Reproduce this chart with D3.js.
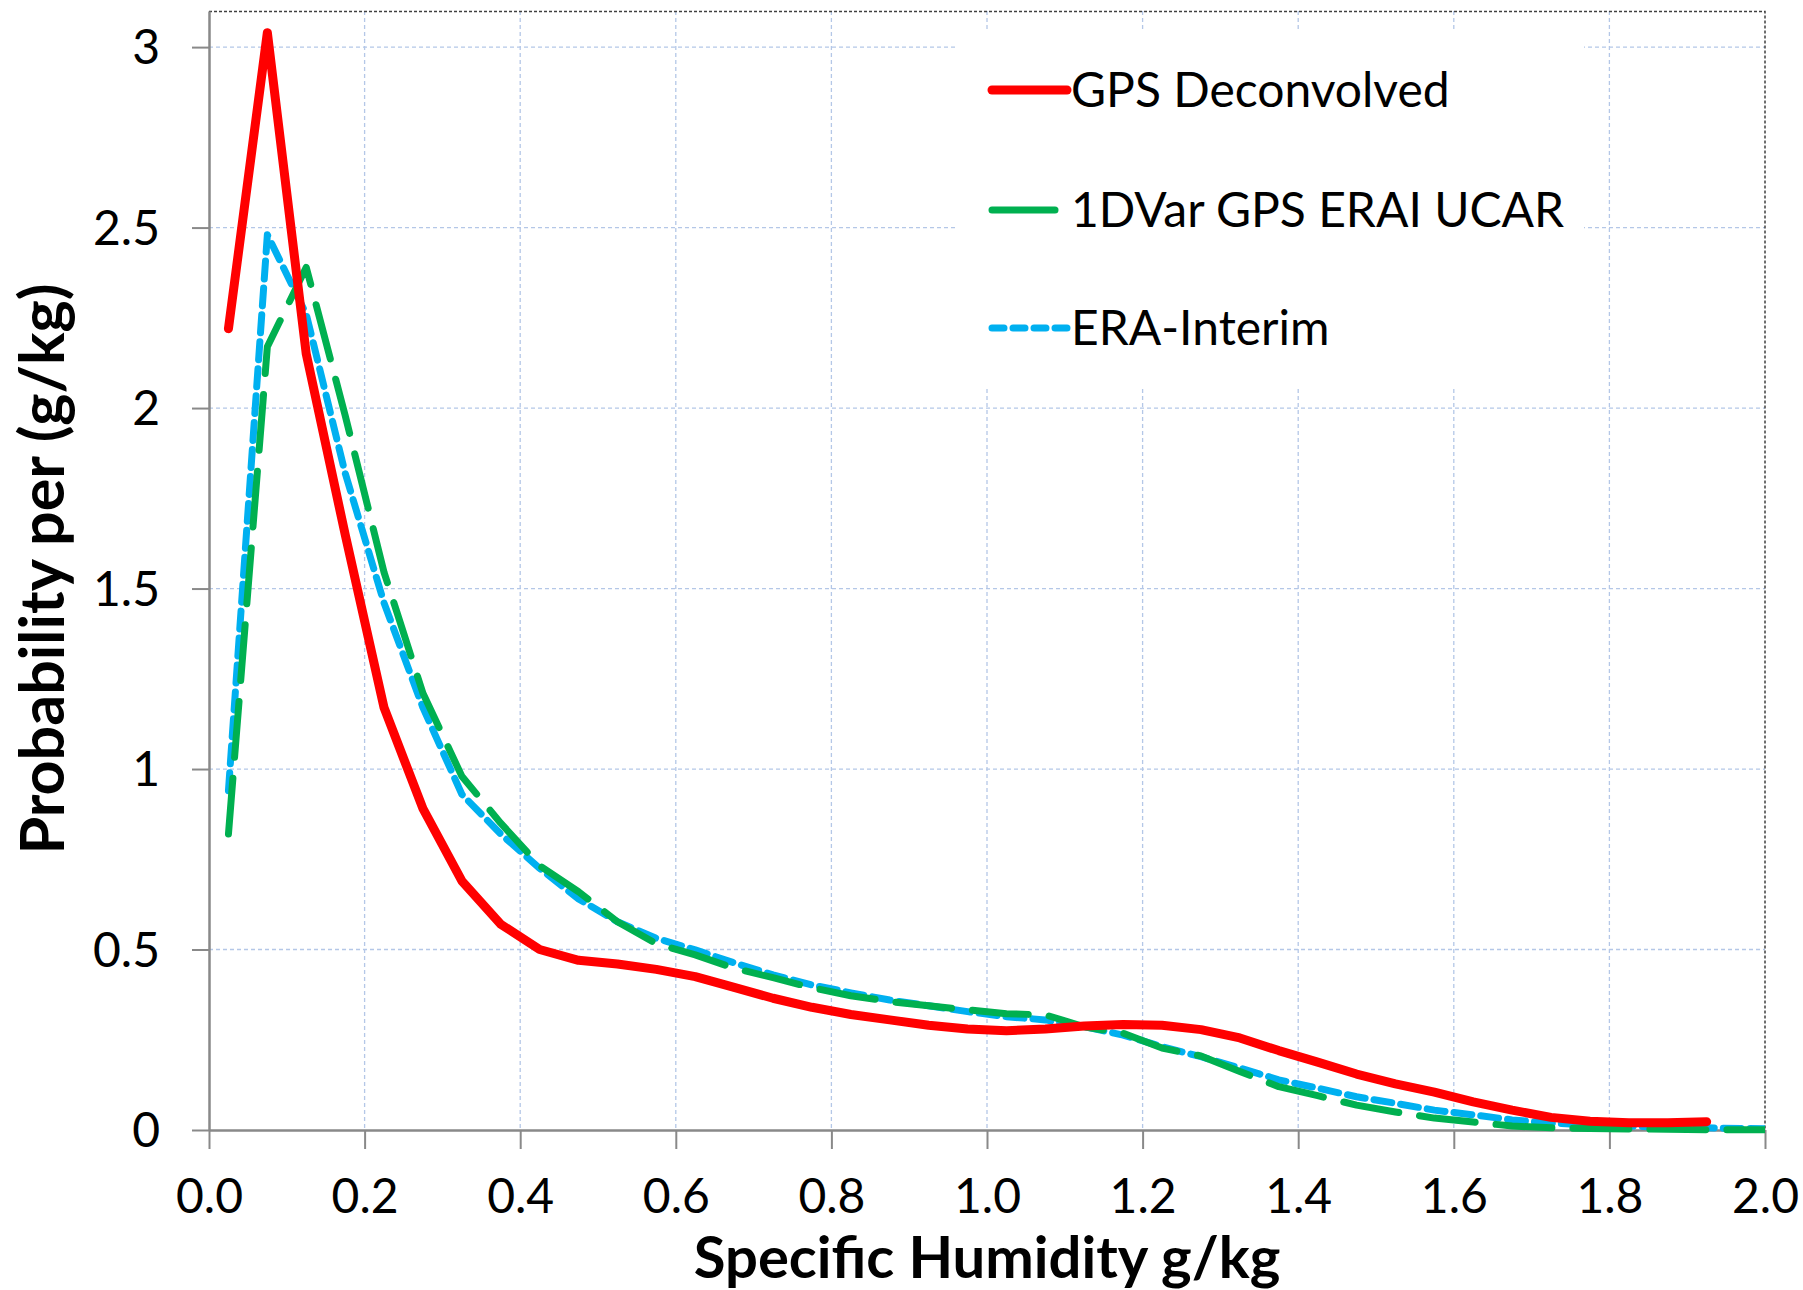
<!DOCTYPE html>
<html>
<head>
<meta charset="utf-8">
<script src="https://cdn.jsdelivr.net/npm/d3@7"></script>
<style>
  body { margin: 0; background: #fff; }
  svg { display: block; }
  .tick-label { font-family: Lato, "Open Sans", sans-serif; font-size: 48px; fill: #000; }
  .axis-title { font-family: Lato, "Open Sans", sans-serif; font-weight: bold; fill: #000; }
  .legend-text { font-family: Lato, "Open Sans", sans-serif; font-size: 48px; fill: #000; }
</style>
</head>
<body>
<div id="wrapper"></div>
<script>
// bin centres (g/kg)
const binCenters = [
  0.025, 0.075, 0.125, 0.175, 0.225, 0.275, 0.325, 0.375, 0.425, 0.475,
  0.525, 0.575, 0.625, 0.675, 0.725, 0.775, 0.825, 0.875, 0.925, 0.975,
  1.025, 1.075, 1.125, 1.175, 1.225, 1.275, 1.325, 1.375, 1.425, 1.475,
  1.525, 1.575, 1.625, 1.675, 1.725, 1.775, 1.825, 1.875, 1.925, 1.975,
  2.025,
]

// GPS Deconvolved (stops at 1.925)
const gpsDeconvolved = [
  2.22, 3.04, 2.15, 1.65, 1.17, 0.89, 0.69, 0.57, 0.50, 0.47,
  0.46, 0.445, 0.425, 0.395, 0.365, 0.34, 0.32, 0.305, 0.29, 0.28,
  0.275, 0.28, 0.288, 0.292, 0.29, 0.278, 0.255, 0.22, 0.188, 0.155,
  0.128, 0.105, 0.078, 0.055, 0.035, 0.024, 0.02, 0.02, 0.023,
]

// 1DVar GPS ERAI UCAR
const oneDVar = [
  0.82, 2.17, 2.39, 1.98, 1.545, 1.21, 0.98, 0.85, 0.732, 0.66,
  0.577, 0.516, 0.485, 0.448, 0.422, 0.394, 0.372, 0.356, 0.344, 0.333,
  0.322, 0.319, 0.286, 0.268, 0.227, 0.205, 0.162, 0.12, 0.095, 0.069,
  0.05, 0.033, 0.022, 0.011, 0.006, 0.004, 0.003, 0.002, 0.001, 0.001,
  0.001,
]

// ERA-Interim
const eraInterim = [
  0.94, 2.48, 2.26, 1.82, 1.46, 1.17, 0.93, 0.82, 0.725, 0.64,
  0.577, 0.531, 0.499, 0.463, 0.43, 0.402, 0.38, 0.36, 0.344, 0.328,
  0.314, 0.305, 0.286, 0.263, 0.231, 0.203, 0.172, 0.139, 0.116, 0.092,
  0.074, 0.055, 0.042, 0.028, 0.019, 0.014, 0.011, 0.008, 0.006, 0.004,
  0.003,
]

const xTicks = [0, 0.2, 0.4, 0.6, 0.8, 1.0, 1.2, 1.4, 1.6, 1.8, 2.0]
const yTicks = [0, 0.5, 1, 1.5, 2, 2.5, 3]

const seriesNames = ["GPS Deconvolved", "1DVar GPS ERAI UCAR", "ERA-Interim"]

const drawChart = () => {
  // 1) accessors
  const xAccessor = (d) => d.x
  const yAccessor = (d) => d.y

  const toPoints = (values) => values.map((y, i) => ({ x: binCenters[i], y }))

  const series = [
    { name: seriesNames[0], points: toPoints(gpsDeconvolved), color: "#ff0000", width: 9, dash: null },
    { name: seriesNames[1], points: toPoints(oneDVar), color: "#00b050", width: 7, dash: "56 21" },
    { name: seriesNames[2], points: toPoints(eraInterim), color: "#00b0f0", width: 7, dash: "18 9" },
  ]

  // 2) dimensions
  const dimensions = {
    width: 1803,
    height: 1290,
    margin: { top: 11, right: 38, bottom: 160, left: 209 },
  }
  dimensions.boundedWidth =
    dimensions.width - dimensions.margin.left - dimensions.margin.right
  dimensions.boundedHeight =
    dimensions.height - dimensions.margin.top - dimensions.margin.bottom

  // 3) canvas
  const wrapper = d3
    .select("#wrapper")
    .append("svg")
    .attr("width", dimensions.width)
    .attr("height", dimensions.height)

  wrapper
    .append("defs")
    .append("clipPath")
    .attr("id", "plot-clip")
    .append("rect")
    .attr("width", dimensions.boundedWidth)
    .attr("height", dimensions.height)
    .attr("y", -dimensions.margin.top)

  const bounds = wrapper
    .append("g")
    .attr("transform", `translate(${dimensions.margin.left},${dimensions.margin.top})`)

  // 4) scales
  const xScale = d3.scaleLinear().domain([0, 2]).range([0, dimensions.boundedWidth])
  const yScale = d3.scaleLinear().domain([0, 3.1]).range([dimensions.boundedHeight, 0])

  // 5) peripherals: grid
  const grid = bounds.append("g")
  grid
    .selectAll(".vgrid")
    .data(xTicks.filter((d) => d > 0 && d < 2))
    .join("line")
    .attr("x1", (d) => xScale(d))
    .attr("x2", (d) => xScale(d))
    .attr("y1", 0)
    .attr("y2", dimensions.boundedHeight)
    .attr("stroke", "#b4c7e7")
    .attr("stroke-width", 1.3)
    .attr("stroke-dasharray", "4 3")

  grid
    .selectAll(".hgrid")
    .data(yTicks.filter((d) => d > 0))
    .join("line")
    .attr("x1", 0)
    .attr("x2", dimensions.boundedWidth)
    .attr("y1", (d) => yScale(d))
    .attr("y2", (d) => yScale(d))
    .attr("stroke", "#b4c7e7")
    .attr("stroke-width", 1.3)
    .attr("stroke-dasharray", "4 3")

  // plot area border (top and right), dotted
  bounds
    .append("path")
    .attr("d", `M0,0.5H${dimensions.boundedWidth}V${dimensions.boundedHeight}`)
    .attr("fill", "none")
    .attr("stroke", "#404040")
    .attr("stroke-width", 1.5)
    .attr("stroke-dasharray", "3 2")

  // axes
  const xAxisGenerator = d3
    .axisBottom(xScale)
    .tickValues(xTicks)
    .tickFormat(d3.format(".1f"))
    .tickSize(19)
    .tickSizeOuter(0)
    .tickPadding(30)

  const xAxis = bounds
    .append("g")
    .attr("transform", `translate(0,${dimensions.boundedHeight})`)
    .call(xAxisGenerator)

  const yAxisGenerator = d3
    .axisLeft(yScale)
    .tickValues(yTicks)
    .tickFormat((d) => d)
    .tickSize(17)
    .tickSizeOuter(0)
    .tickPadding(32)

  const yAxis = bounds.append("g").call(yAxisGenerator)

  ;[xAxis, yAxis].forEach((axis) => {
    axis.select(".domain").attr("stroke", "#898989").attr("stroke-width", 2.5)
    axis.selectAll(".tick line").attr("stroke", "#898989").attr("stroke-width", 2)
    axis
      .selectAll(".tick text")
      .attr("class", "tick-label")
      .attr("font-family", null)
      .attr("font-size", null)
      .attr("fill", null)
  })
  xAxis.selectAll(".tick text").attr("dy", "0.71em")
  yAxis.selectAll(".tick text").attr("dy", "0.35em")

  // axis titles
  wrapper
    .append("text")
    .attr("class", "axis-title")
    .style("font-size", "58px")
    .attr("x", dimensions.margin.left + xScale(1))
    .attr("y", 1278)
    .attr("text-anchor", "middle")
    .text("Specific Humidity g/kg")

  wrapper
    .append("text")
    .attr("class", "axis-title")
    .style("font-size", "61px")
    .attr("transform", `translate(64,569) rotate(-90)`)
    .attr("text-anchor", "middle")
    .text("Probability per (g/kg)")

  // legend background
  const legend = bounds.append("g")
  legend
    .append("rect")
    .attr("x", 956 - dimensions.margin.left)
    .attr("y", 32 - dimensions.margin.top)
    .attr("width", 628)
    .attr("height", 356)
    .attr("fill", "#fff")

  // 6) data
  const lineGenerator = d3
    .line()
    .x((d) => xScale(xAccessor(d)))
    .y((d) => yScale(yAccessor(d)))

  const lines = bounds.append("g").attr("clip-path", "url(#plot-clip)")
  series
    .slice()
    .reverse()
    .forEach((s) => {
      lines
        .append("path")
        .attr("d", lineGenerator(s.points))
        .attr("fill", "none")
        .attr("stroke", s.color)
        .attr("stroke-width", s.width)
        .attr("stroke-linejoin", "round")
        .attr("stroke-linecap", "round")
        .attr("stroke-dasharray", s.dash)
    })

  // legend entries
  const legendRows = [
    { y: 90, x1: 992, x2: 1067, tx: 1071 },
    { y: 210, x1: 992, x2: 1055, tx: 1071 },
    { y: 328, x1: 992, x2: 1067, tx: 1071 },
  ]
  series.forEach((s, i) => {
    const row = legendRows[i]
    const g = wrapper.append("g")
    g.append("line")
      .attr("x1", row.x1)
      .attr("x2", row.x2)
      .attr("y1", row.y)
      .attr("y2", row.y)
      .attr("stroke", s.color)
      .attr("stroke-width", s.width)
      .attr("stroke-linecap", "round")
      .attr("stroke-dasharray", i === 2 ? "12 9" : null)
    g.append("text")
      .attr("class", "legend-text")
      .attr("x", row.tx)
      .attr("y", row.y)
      .attr("dy", "0.35em")
      .text(s.name)
  })
}

drawChart()
</script>
</body>
</html>
